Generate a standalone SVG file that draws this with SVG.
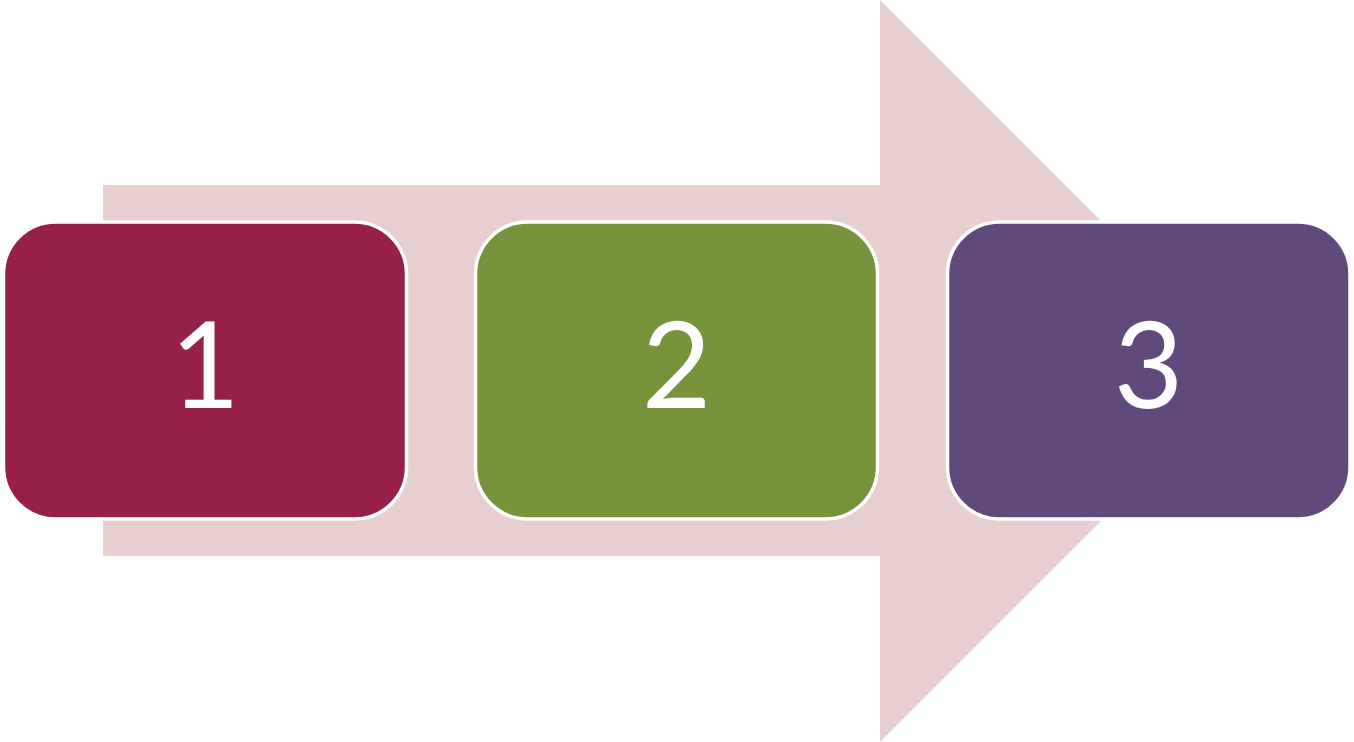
<svg xmlns="http://www.w3.org/2000/svg" width="1354" height="742" viewBox="0 0 1354 742">
<style>
.box{stroke:#FFFFFF;stroke-width:3.5}
.lbl{font-family:Lato,"Open Sans","Liberation Sans",sans-serif;font-size:120px;fill:#FFFFFF;text-anchor:middle}
</style>
<rect width="1354" height="742" fill="#FFFFFF"/>
<g id="connectors">
<polygon points="103,185 880,185 880,0 1251,371 880,742 880,556 103,556" fill="#E8D0D1"/>
</g>
<g id="node1">
<rect class="box" x="3.5" y="222" width="403" height="297" rx="52" fill="#97204A"/>
<text class="lbl" x="205" y="408">1</text>
</g>
<g id="node2">
<rect class="box" x="475.5" y="222" width="402" height="297" rx="52" fill="#77933C"/>
<text class="lbl" x="676.5" y="408">2</text>
</g>
<g id="node3">
<rect class="box" x="947.5" y="222" width="402.5" height="297" rx="52" fill="#604A7B"/>
<text class="lbl" x="1148.5" y="408">3</text>
</g>
</svg>
